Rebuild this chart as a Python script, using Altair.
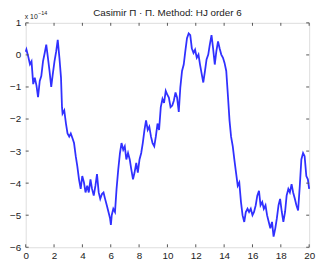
import altair as alt
import pandas as pd

# Time (x) and Casimir error (units of 1e-14)
t = [0.0, 0.05, 0.15, 0.3, 0.41, 0.53, 0.64, 0.76, 0.87, 0.99, 1.1, 1.22, 1.34, 1.45,
     1.57, 1.68, 1.8, 1.91, 2.03, 2.15, 2.26, 2.38, 2.49, 2.56, 2.6, 2.72, 2.84, 2.95,
     3.07, 3.18, 3.3, 3.41, 3.53, 3.64, 3.76, 3.88, 3.99, 4.11, 4.22, 4.34, 4.45, 4.57,
     4.68, 4.8, 4.92, 5.03, 5.15, 5.26, 5.38, 5.49, 5.6, 5.72, 5.84, 5.95, 6.01, 6.07,
     6.18, 6.3, 6.41, 6.53, 6.65, 6.76, 6.88, 6.99, 7.1, 7.22, 7.34, 7.45, 7.57, 7.68,
     7.8, 7.91, 8.03, 8.15, 8.26, 8.38, 8.49, 8.61, 8.72, 8.84, 8.95, 9.07, 9.18, 9.3,
     9.41, 9.53, 9.65, 9.76, 9.88, 10.0, 10.1, 10.22, 10.34, 10.45, 10.57, 10.68, 10.8,
     10.91, 11.03, 11.15, 11.26, 11.38, 11.5, 11.61, 11.72, 11.84, 11.95, 12.07, 12.19,
     12.3, 12.42, 12.53, 12.65, 12.76, 12.88, 12.99, 13.11, 13.22, 13.34, 13.45, 13.57,
     13.68, 13.8, 13.92, 14.03, 14.15, 14.26, 14.38, 14.49, 14.61, 14.72, 14.84, 14.96,
     15.07, 15.19, 15.3, 15.42, 15.53, 15.65, 15.76, 15.88, 16.0, 16.11, 16.23, 16.34,
     16.46, 16.57, 16.69, 16.8, 16.92, 17.03, 17.15, 17.26, 17.38, 17.49, 17.61, 17.72,
     17.84, 17.95, 18.07, 18.18, 18.3, 18.41, 18.53, 18.64, 18.76, 18.87, 18.99, 19.1,
     19.22, 19.34, 19.45, 19.57, 19.68, 19.8, 19.91, 20.0]
casimir = [0.1, 0.17, 0.0, -0.29, -0.2, -0.91, -0.71, -0.96, -1.32, -0.81, -0.66, -0.2,
           0.06, 0.32, -0.1, -0.5, -1.0, -0.6, -0.2, 0.11, 0.47, -0.1, -0.71, -1.63, -1.83,
           -1.73, -2.14, -2.45, -2.55, -2.45, -2.6, -2.75, -3.16, -3.47, -3.88, -4.18,
           -3.78, -3.98, -4.29, -4.08, -4.29, -3.88, -4.18, -4.39, -4.08, -3.72, -4.29,
           -4.49, -4.34, -4.29, -4.49, -4.69, -4.9, -5.1, -5.3, -5.0, -4.8, -4.9, -4.18,
           -3.57, -3.06, -2.75, -2.96, -2.85, -3.26, -3.06, -3.26, -3.57, -3.88, -3.67,
           -3.37, -3.67, -3.26, -3.06, -2.75, -2.34, -2.04, -2.34, -2.24, -2.55, -2.75,
           -2.85, -2.55, -2.14, -2.34, -1.63, -1.37, -1.5, -1.12, -1.25, -1.33, -1.63,
           -1.58, -1.43, -1.17, -1.33, -1.78, -1.01, -0.5, -0.3, 0.11, 0.52, 0.67, 0.62,
           0.21, 0.06, 0.16, -0.09, 0.01, -0.3, -0.6, -0.86, -0.5, -0.14, 0.01, 0.32, 0.62,
           0.21, -0.3, 0.11, 0.42, 0.21, 0.01, -0.09, -0.25, -0.5, -1.22, -2.04, -2.55,
           -2.85, -3.26, -3.67, -4.08, -3.98, -4.59, -5.0, -5.21, -4.9, -4.8, -4.9, -4.8,
           -5.0, -4.9, -4.69, -4.39, -4.24, -4.69, -4.59, -4.8, -4.69, -5.0, -5.21, -5.41,
           -5.21, -5.67, -5.41, -5.1, -4.69, -4.49, -4.9, -5.21, -4.9, -4.39, -4.18, -4.29,
           -4.03, -4.29, -4.49, -4.69, -4.85, -4.08, -3.26, -3.06, -3.16, -3.78, -3.88,
           -4.18]

x_ticks = [0, 2, 4, 6, 8, 10, 12, 14, 16, 18, 20]
y_ticks = [-6, -5, -4, -3, -2, -1, 0, 1]
title_text = "Casimir \u03a0 \u00b7 \u03a0. Method: HJ order 6"
exp_base = "x 10"
exp_power = "\u221214"

W, H = 288, 228
FONT = "Liberation Sans"

df = pd.DataFrame({"t": t, "c": casimir})
xt = pd.DataFrame({"v": x_ticks})
yt = pd.DataFrame({"v": y_ticks})

xs = alt.Scale(domain=[0, 20], nice=False, zero=False)
ys = alt.Scale(domain=[-6, 1], nice=False, zero=False)

xaxis = alt.Axis(values=x_ticks, ticks=False, domain=False, grid=False,
                 labelFont=FONT, labelFontSize=10, labelColor="#222",
                 labelPadding=3, format="d", labelOverlap=False, labelFlush=False)
yaxis = alt.Axis(values=y_ticks, ticks=False, domain=False, grid=False,
                 labelFont=FONT, labelFontSize=10, labelColor="#222",
                 labelPadding=5, format="d", labelOverlap=False, labelFlush=False)

line = alt.Chart(df).mark_line(color="#1a1aff", strokeWidth=1.8, opacity=0.9).encode(
    x=alt.X("t:Q", scale=xs, title=None, axis=xaxis),
    y=alt.Y("c:Q", scale=ys, title=None, axis=yaxis),
    order="t:Q",
)

tick_color = "#555"
xb = alt.Chart(xt).mark_rule(color=tick_color, strokeWidth=1).encode(
    x=alt.X("v:Q", scale=xs, title=None, axis=xaxis), y=alt.value(H - 3), y2=alt.value(H))
xtop = alt.Chart(xt).mark_rule(color=tick_color, strokeWidth=1).encode(
    x=alt.X("v:Q", scale=xs, title=None, axis=xaxis), y=alt.value(0), y2=alt.value(3))
yl = alt.Chart(yt).mark_rule(color=tick_color, strokeWidth=1).encode(
    y=alt.Y("v:Q", scale=ys, title=None, axis=yaxis), x=alt.value(0), x2=alt.value(3))
yr = alt.Chart(yt).mark_rule(color=tick_color, strokeWidth=1).encode(
    y=alt.Y("v:Q", scale=ys, title=None, axis=yaxis), x=alt.value(W - 3), x2=alt.value(W))

title = alt.Chart(pd.DataFrame({"s": [title_text]})).mark_text(
    font=FONT, fontSize=10, color="#222", align="center", baseline="middle"
).encode(text="s:N", x=alt.value(W / 2), y=alt.value(-10))

base = alt.Chart(pd.DataFrame({"s": [exp_base]})).mark_text(
    font=FONT, fontSize=7, color="#222", align="left", baseline="middle"
).encode(text="s:N", x=alt.value(-1), y=alt.value(-6))
power = alt.Chart(pd.DataFrame({"s": [exp_power]})).mark_text(
    font=FONT, fontSize=5.5, color="#222", align="left", baseline="middle"
).encode(text="s:N", x=alt.value(12.5), y=alt.value(-9.5))

chart = alt.layer(line, xb, xtop, yl, yr, title, base, power).properties(
    width=W, height=H,
    autosize=alt.AutoSizeParams(type="none"),
    padding={"left": 18, "top": 13, "right": 10, "bottom": 20},
).configure_view(stroke="#555", strokeWidth=1).configure(background="white")

chart.save("out.html", embed_options={"renderer": "svg", "actions": False})
